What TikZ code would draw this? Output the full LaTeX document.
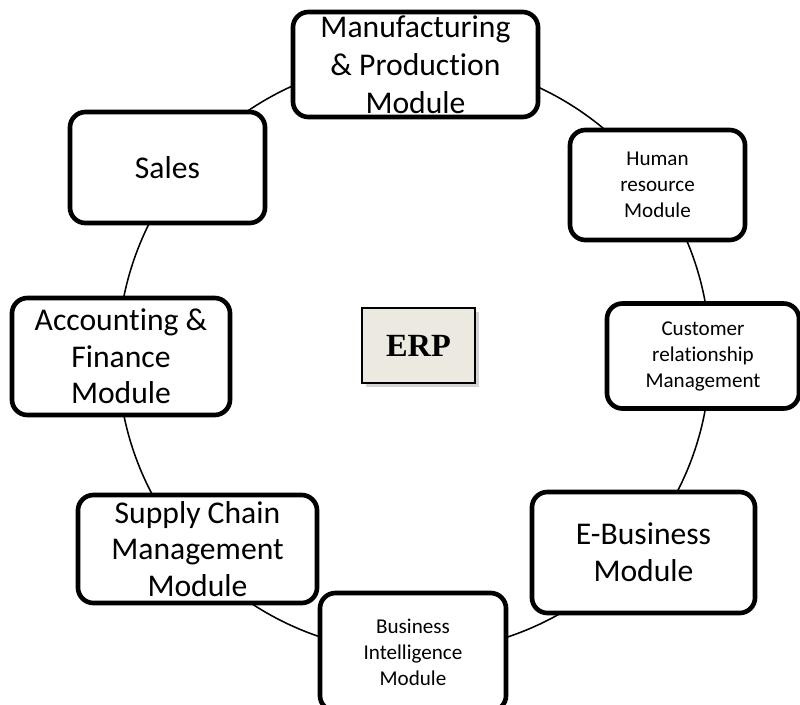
\documentclass[tikz,border=0pt]{standalone}
\usepackage{fontspec}
\setmainfont{Carlito}[Ligatures=NoCommon,Contextuals=NoAlternate]
\newfontfamily\erpfont{Liberation Serif}
\usetikzlibrary{shadows}

\begin{document}
\begin{tikzpicture}
  [
    x=0.025cm,
    y=-0.025cm,
    module/.style={
      draw,
      fill=white,
      line width=3.3pt,
      rounded corners=11pt,
      inner sep=0pt,
      align=center
    },
    big/.style={
      module,
      font=\fontsize{22.5}{26}\selectfont
    },
    small/.style={
      module,
      font=\fontsize{15}{18.5}\selectfont
    },
    hub/.style={
      draw,
      line width=1.1pt,
      fill=erpfill,
      drop shadow={shadow xshift=3pt,shadow yshift=-3pt,opacity=.35},
      minimum width=2.825cm,
      minimum height=1.875cm,
      font=\erpfont\bfseries\fontsize{23}{26}\selectfont
    }
  ]
  \definecolor{erpfill}{HTML}{ECEAE0}
  \useasboundingbox (0,0) rectangle (800,704);
  \clip (0,0) rectangle (800,704);
  % ring
  \draw [line width=1.1pt] (414,356) circle [radius=7.4cm];
  % modules
  \node [big,minimum width=6.125cm,minimum height=2.625cm,
    font=\fontsize{22.5}{27}\selectfont] (manuf) at (415.5,64.5)
    {Manufacturing\\ \& Production\\ Module};
  \node [big,minimum width=4.875cm,minimum height=2.775cm] (sales) at (167.5,167.5) {Sales};
  \node [small,minimum width=4.375cm,minimum height=2.75cm] (hr) at (657.5,185)
    {Human\\ resource\\ Module};
  \node [small,minimum width=4.8cm,minimum height=2.625cm] (crm) at (703,356)
    {Customer\\ relationship\\ Management};
  \node [big,minimum width=5.45cm,minimum height=2.925cm] (acct) at (121,356.5)
    {Accounting \&\\ Finance\\ Module};
  \node [big,minimum width=5.975cm,minimum height=2.7cm] (scm) at (197.5,549)
    {Supply Chain\\ Management\\ Module};
  \node [big,minimum width=5.575cm,minimum height=3.025cm] (ebiz) at (643.5,552.5)
    {E-Business\\ Module};
  \node [small,minimum width=4.65cm,minimum height=2.95cm] (bi) at (413,652)
    {Business\\ Intelligence\\ Module};
  % centre
  \node [hub] (erp) at (418.5,345.5) {ERP};
\end{tikzpicture}
\end{document}
